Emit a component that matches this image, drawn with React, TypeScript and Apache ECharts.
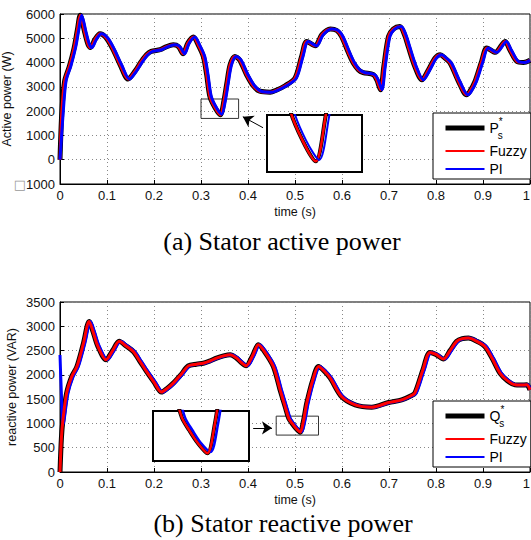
import React, { useEffect, useRef } from 'react';
import * as echarts from 'echarts';

// ---------- Data ----------
// (a) Stator active power: time (s) and P (W)
const tA = [0, 0.004, 0.01, 0.02, 0.03, 0.037, 0.043, 0.053, 0.06, 0.065, 0.074, 0.085, 0.099, 0.113, 0.128, 0.145, 0.159, 0.173, 0.184, 0.194, 0.213, 0.227, 0.241, 0.252, 0.262, 0.272, 0.284, 0.294, 0.305, 0.312, 0.319, 0.33, 0.341, 0.349, 0.355, 0.362, 0.372, 0.382, 0.397, 0.411, 0.425, 0.447, 0.46, 0.479, 0.5, 0.514, 0.525, 0.543, 0.557, 0.575, 0.589, 0.599, 0.614, 0.624, 0.635, 0.645, 0.667, 0.674, 0.682, 0.689, 0.699, 0.709, 0.723, 0.733, 0.741, 0.755, 0.77, 0.784, 0.798, 0.809, 0.819, 0.83, 0.848, 0.865, 0.872, 0.883, 0.897, 0.908, 0.926, 0.947, 0.957, 0.972, 0.986, 1];
const pRefA = [0, 2000, 3250, 3850, 4600, 5350, 5950, 5210, 4730, 4620, 4940, 5185, 5000, 4530, 3910, 3320, 3630, 4045, 4320, 4460, 4530, 4660, 4730, 4660, 4360, 4800, 5050, 4730, 4250, 3500, 2600, 2140, 1850, 2450, 3150, 3910, 4250, 4115, 3500, 3045, 2820, 2780, 2860, 3045, 3360, 4250, 4870, 4690, 5145, 5380, 5320, 5075, 4390, 3980, 3700, 3590, 3500, 3290, 2880, 3840, 5075, 5380, 5490, 5145, 4660, 3840, 3290, 3700, 4185, 4320, 4185, 3980, 3220, 2675, 2810, 3220, 4045, 4600, 4420, 4870, 4530, 4050, 4005, 4090];
const pFuzzyA = [0, 2000, 3250, 3850, 4600, 5350, 5950, 5210, 4730, 4620, 4940, 5185, 5000, 4530, 3910, 3320, 3630, 4045, 4320, 4460, 4530, 4660, 4730, 4660, 4360, 4800, 5050, 4730, 4250, 3500, 2600, 2140, 1850, 2450, 3150, 3910, 4250, 4115, 3500, 3045, 2820, 2780, 2860, 3045, 3360, 4250, 4870, 4690, 5145, 5380, 5320, 5075, 4390, 3980, 3700, 3590, 3500, 3290, 2880, 3840, 5075, 5380, 5490, 5145, 4660, 3840, 3290, 3700, 4185, 4320, 4185, 3980, 3220, 2675, 2810, 3220, 4045, 4600, 4420, 4870, 4530, 4050, 4005, 4090];
// PI curve lags slightly behind
const tPiA = [0, 0.007, 0.013, 0.023, 0.033, 0.04, 0.046, 0.056, 0.063, 0.068, 0.077, 0.088, 0.102, 0.116, 0.131, 0.148, 0.162, 0.176, 0.187, 0.197, 0.216, 0.23, 0.244, 0.255, 0.265, 0.275, 0.287, 0.297, 0.308, 0.315, 0.322, 0.333, 0.344, 0.352, 0.358, 0.365, 0.375, 0.385, 0.4, 0.414, 0.428, 0.45, 0.463, 0.482, 0.503, 0.517, 0.528, 0.546, 0.56, 0.578, 0.592, 0.602, 0.617, 0.627, 0.638, 0.648, 0.67, 0.677, 0.685, 0.692, 0.702, 0.712, 0.726, 0.736, 0.744, 0.758, 0.773, 0.787, 0.801, 0.812, 0.822, 0.833, 0.851, 0.868, 0.875, 0.886, 0.9, 0.911, 0.929, 0.95, 0.96, 0.975, 0.989, 1];
const pPiA = [0, 2000, 3250, 3850, 4600, 5350, 5950, 5210, 4730, 4620, 4940, 5185, 5000, 4530, 3910, 3320, 3630, 4045, 4320, 4460, 4530, 4660, 4730, 4660, 4360, 4800, 5050, 4730, 4250, 3500, 2600, 2140, 1870, 2450, 3150, 3910, 4250, 4115, 3500, 3045, 2820, 2780, 2860, 3045, 3360, 4250, 4870, 4690, 5145, 5380, 5320, 5075, 4390, 3980, 3700, 3590, 3500, 3290, 2880, 3840, 5075, 5380, 5490, 5145, 4660, 3840, 3290, 3700, 4185, 4320, 4185, 3980, 3220, 2675, 2810, 3220, 4045, 4600, 4420, 4870, 4530, 4050, 4005, 4090];

// (b) Stator reactive power: time (s) and Q (VAR)
const tB = [0, 0.003, 0.006, 0.014, 0.025, 0.036, 0.05, 0.062, 0.07, 0.08, 0.098, 0.112, 0.126, 0.14, 0.156, 0.17, 0.184, 0.2, 0.216, 0.228, 0.241, 0.257, 0.273, 0.29, 0.305, 0.32, 0.333, 0.348, 0.362, 0.375, 0.385, 0.396, 0.41, 0.422, 0.435, 0.454, 0.468, 0.479, 0.487, 0.494, 0.502, 0.511, 0.518, 0.525, 0.538, 0.55, 0.562, 0.575, 0.599, 0.628, 0.663, 0.699, 0.727, 0.745, 0.755, 0.772, 0.787, 0.8, 0.816, 0.83, 0.844, 0.856, 0.869, 0.885, 0.904, 0.92, 0.936, 0.952, 0.968, 0.98, 0.993, 1];
const qRefB = [0, 700, 1050, 1620, 1966, 2172, 2655, 3100, 2900, 2600, 2310, 2500, 2690, 2600, 2480, 2280, 2070, 1850, 1645, 1720, 1830, 2000, 2185, 2220, 2240, 2290, 2345, 2390, 2413, 2350, 2260, 2186, 2400, 2620, 2480, 2172, 1700, 1347, 1100, 1000, 900, 820, 1050, 1417, 1900, 2172, 2080, 1933, 1553, 1382, 1334, 1430, 1485, 1560, 1623, 2100, 2461, 2420, 2325, 2500, 2690, 2745, 2757, 2700, 2585, 2330, 2036, 1880, 1794, 1790, 1794, 1690];
const qFuzzyB = [0, 700, 1050, 1620, 1966, 2172, 2655, 3100, 2900, 2600, 2310, 2500, 2690, 2600, 2480, 2280, 2070, 1850, 1645, 1720, 1830, 2000, 2185, 2220, 2240, 2290, 2345, 2390, 2413, 2350, 2260, 2186, 2400, 2620, 2480, 2172, 1700, 1347, 1100, 1000, 900, 820, 1050, 1417, 1900, 2172, 2080, 1933, 1553, 1382, 1334, 1430, 1485, 1560, 1623, 2100, 2461, 2420, 2325, 2500, 2690, 2745, 2757, 2700, 2585, 2330, 2036, 1880, 1794, 1790, 1794, 1690];
const tPiB = [0, 0.003, 0.0065, 0.017, 0.028, 0.039, 0.053, 0.065, 0.073, 0.083, 0.101, 0.115, 0.129, 0.143, 0.159, 0.173, 0.187, 0.203, 0.219, 0.231, 0.244, 0.26, 0.276, 0.293, 0.308, 0.323, 0.336, 0.351, 0.365, 0.378, 0.388, 0.399, 0.413, 0.425, 0.438, 0.457, 0.471, 0.482, 0.49, 0.497, 0.505, 0.514, 0.521, 0.528, 0.541, 0.553, 0.565, 0.578, 0.602, 0.631, 0.666, 0.702, 0.73, 0.748, 0.758, 0.775, 0.79, 0.803, 0.819, 0.833, 0.847, 0.859, 0.872, 0.888, 0.907, 0.923, 0.939, 0.955, 0.971, 0.983, 0.996, 1];
const qPiB = [2410, 1600, 980, 1620, 1966, 2172, 2655, 3100, 2900, 2600, 2310, 2500, 2690, 2600, 2480, 2280, 2070, 1850, 1645, 1720, 1830, 2000, 2185, 2220, 2240, 2290, 2345, 2390, 2413, 2350, 2260, 2186, 2400, 2620, 2480, 2172, 1700, 1347, 1100, 1000, 900, 830, 1050, 1417, 1900, 2172, 2080, 1933, 1553, 1382, 1334, 1430, 1485, 1560, 1623, 2100, 2461, 2420, 2325, 2500, 2690, 2745, 2757, 2700, 2585, 2330, 2036, 1880, 1794, 1790, 1794, 1690];

// Axis ranges / annotations
const xRange = [0, 1, 0.1];
const yRangeA = [-1000, 6000, 1000];
const yRangeB = [0, 3500, 500];
const zoomBoxA = [0.3, 0.38, 1700, 2500];
const zoomBoxB = [0.46, 0.55, 760, 1150];
const arrowA = [[0.432, 1317], [0.389, 1770]];
const arrowB = [[0.411, 908], [0.451, 908]];
const captions = ['(a) Stator active power', '(b) Stator reactive power'];
const axisTitles = ['Active power (W)', 'reactive power (VAR)', 'time (s)'];

const FONT = '"Liberation Sans", Arial, Helvetica, sans-serif';
const SERIF = '"Liberation Serif", "Times New Roman", serif';
const RED = '#ff0000';
const BLUE = '#0000ff';

const pairs = (t: number[], v: number[]) => t.slice(0, Math.min(t.length, v.length)).map((x, i) => [x, v[i]]);

function lineSeries(name: string, data: number[][], color: string, width: number, axis: number, z: number, extra: any = {}) {
  return {
    name,
    type: 'line',
    xAxisIndex: axis,
    yAxisIndex: axis,
    data,
    symbol: 'none',
    showSymbol: false,
    smooth: 0.3,
    lineStyle: { color, width },
    itemStyle: { color },
    z,
    silent: true,
    emphasis: { disabled: true },
    ...extra,
  };
}

function mainX(g: number) {
  return {
    type: 'value', gridIndex: g, min: xRange[0], max: xRange[1], interval: xRange[2],
    name: axisTitles[2], nameLocation: 'middle', nameGap: 21, nameMoveOverlap: false,
    nameTextStyle: { fontSize: 12.5, color: '#111', fontFamily: FONT },
    axisLine: { show: true, onZero: false, lineStyle: { color: '#000', width: 1 } },
    axisTick: { show: true, inside: true, length: 4, lineStyle: { color: '#000' } },
    axisLabel: {
      fontSize: 13, color: '#111', fontFamily: FONT, margin: 5, hideOverlap: false,
      alignMaxLabel: 'right',
      formatter: (v: number) => String(Math.round(v * 10) / 10),
    },
    splitLine: { show: true, lineStyle: { color: '#888', type: [1, 3], width: 1 } },
  };
}

function mainY(g: number, r: number[], name: string, gap: number) {
  return {
    type: 'value', gridIndex: g, min: r[0], max: r[1], interval: r[2],
    name, nameLocation: 'middle', nameGap: gap, nameMoveOverlap: false,
    nameTextStyle: { fontSize: 12.5, color: '#111', fontFamily: FONT },
    axisLine: { show: true, onZero: false, lineStyle: { color: '#000', width: 1 } },
    axisTick: { show: true, inside: true, length: 4, lineStyle: { color: '#000' } },
    axisLabel: {
      fontSize: 13, color: '#111', fontFamily: FONT, margin: 5,
      formatter: (v: number) => (v < 0 ? '{box|\u25A1}' + String(Math.abs(v)) : String(v)),
      rich: { box: { fontSize: 13, color: '#999', fontFamily: 'DejaVu Sans' } },
    },
    splitLine: { show: true, lineStyle: { color: '#888', type: [1, 3], width: 1 } },
  };
}

function insetX(g: number, b: number[]) {
  return { type: 'value', gridIndex: g, min: b[0], max: b[1], show: false, splitLine: { show: false } };
}
function insetY(g: number, b: number[]) {
  return { type: 'value', gridIndex: g, min: b[2], max: b[3], show: false, splitLine: { show: false } };
}

function boxMarks(b: number[], arrow: number[][]) {
  return {
    markArea: {
      silent: true,
      itemStyle: { color: 'rgba(0,0,0,0)', borderColor: '#333', borderWidth: 1 },
      label: { show: false },
      data: [[{ coord: [b[0], b[2]] }, { coord: [b[1], b[3]] }]],
    },
    markLine: {
      silent: true,
      symbol: ['none', 'arrow'],
      symbolSize: 10,
      label: { show: false },
      lineStyle: { type: 'solid', color: '#000', width: 1 },
      itemStyle: { color: '#000' },
      data: [[{ coord: arrow[0] }, { coord: arrow[1] }]],
    },
  };
}

const legendRich = {
  m: { fontSize: 14, lineHeight: 24, fontFamily: FONT, color: '#000' },
  sp: { fontSize: 10, lineHeight: 10, verticalAlign: 'top', fontFamily: FONT, color: '#000' },
  sb: { fontSize: 10, lineHeight: 10, verticalAlign: 'bottom', fontFamily: FONT, color: '#000', padding: [0, 0, 0, -5] },
};

function legendFor(top: number, names: string[], labels: Record<string, string>) {
  return {
    show: true,
    left: 433,
    top,
    orient: 'vertical',
    align: 'left',
    itemWidth: 39,
    itemHeight: 14,
    itemGap: 4,
    padding: [3, 4, 3, 10],
    backgroundColor: '#fff',
    borderColor: '#000',
    borderWidth: 1,
    borderRadius: 0,
    selectedMode: false,
    z: 20,
    textStyle: { fontSize: 14, color: '#000', fontFamily: FONT, rich: legendRich },
    formatter: (n: string) => labels[n] ?? n,
    data: [
      { name: names[0], lineStyle: { width: 5, color: '#000' }, itemStyle: { opacity: 0 } },
      { name: names[1], lineStyle: { width: 2, color: RED }, itemStyle: { opacity: 0 } },
      { name: names[2], lineStyle: { width: 2, color: BLUE }, itemStyle: { opacity: 0 } },
    ],
  };
}

const gridBase = { show: true, borderColor: '#000', outerBoundsMode: 'none', containLabel: false };

export default function App() {
  const ref = useRef<HTMLDivElement>(null);

  useEffect(() => {
    document.body.style.margin = '0';
    if (!ref.current) return;
    const chart = echarts.init(ref.current, null, { renderer: 'svg' });

    const dRefA = pairs(tA, pRefA);
    const dFuzA = pairs(tA, pFuzzyA);
    const dPiA = pairs(tPiA, pPiA);
    const dRefB = pairs(tB, qRefB);
    const dFuzB = pairs(tB, qFuzzyB);
    const dPiB = pairs(tPiB, qPiB);

    const option: any = {
      animation: false,
      backgroundColor: '#fff',
      textStyle: { fontFamily: FONT },
      grid: [
        { ...gridBase, left: 60, top: 14, width: 470, height: 170, borderWidth: 1, backgroundColor: 'rgba(0,0,0,0)' },
        { ...gridBase, left: 60, top: 302, width: 470, height: 170, borderWidth: 1, backgroundColor: 'rgba(0,0,0,0)' },
        { ...gridBase, left: 267, top: 115, width: 95, height: 57, borderWidth: 2, backgroundColor: '#fff', z: 10 },
        { ...gridBase, left: 153, top: 411, width: 96, height: 50, borderWidth: 2, backgroundColor: '#fff', z: 10 },
      ],
      xAxis: [mainX(0), mainX(1), insetX(2, zoomBoxA), insetX(3, zoomBoxB)],
      yAxis: [
        mainY(0, yRangeA, axisTitles[0], 47),
        mainY(1, yRangeB, axisTitles[1], 42),
        insetY(2, zoomBoxA),
        insetY(3, zoomBoxB),
      ],
      legend: [
        legendFor(113, ['PsA', 'FuzzyA', 'PIA'], { PsA: '{m|P}{sp|*}{sb|s}', FuzzyA: 'Fuzzy', PIA: 'PI' }),
        legendFor(401, ['QsB', 'FuzzyB', 'PIB'], { QsB: '{m|Q}{sp|*}{sb|s}', FuzzyB: 'Fuzzy', PIB: 'PI' }),
      ],
      series: [
        // (a) main
        lineSeries('PsA', dRefA, '#000', 5, 0, 2),
        lineSeries('FuzzyA', dFuzA, RED, 3, 0, 3),
        lineSeries('PIA', dPiA, BLUE, 3, 0, 4, boxMarks(zoomBoxA, arrowA)),
        // (a) inset
        lineSeries('insA0', dRefA, '#000', 4, 2, 12),
        lineSeries('insA1', dFuzA, RED, 2.5, 2, 13),
        lineSeries('insA2', dPiA, BLUE, 2, 2, 14),
        // (b) main
        lineSeries('QsB', dRefB, '#000', 5, 1, 2),
        lineSeries('PIB', dPiB, BLUE, 3, 1, 3),
        lineSeries('FuzzyB', dFuzB, RED, 3, 1, 4, boxMarks(zoomBoxB, arrowB)),
        // (b) inset
        lineSeries('insB0', dRefB, '#000', 4, 3, 12),
        lineSeries('insB2', dPiB, BLUE, 2.5, 3, 13),
        lineSeries('insB1', dFuzB, RED, 2.5, 3, 14),
      ],
      graphic: [
        {
          type: 'text', x: 282, y: 241, z: 30,
          style: { text: captions[0], fontSize: 26, fontFamily: SERIF, fill: '#000', align: 'center', verticalAlign: 'middle', textAlign: 'center', textVerticalAlign: 'middle' },
        },
        {
          type: 'text', x: 283, y: 523, z: 30,
          style: { text: captions[1], fontSize: 26, fontFamily: SERIF, fill: '#000', align: 'center', verticalAlign: 'middle', textAlign: 'center', textVerticalAlign: 'middle' },
        },
      ],
    };

    chart.setOption(option);
    return () => chart.dispose();
  }, []);

  return (
    <div
      ref={ref}
      style={{ position: 'absolute', left: 0, top: 0, width: 531, height: 540, background: '#fff' }}
    />
  );
}
